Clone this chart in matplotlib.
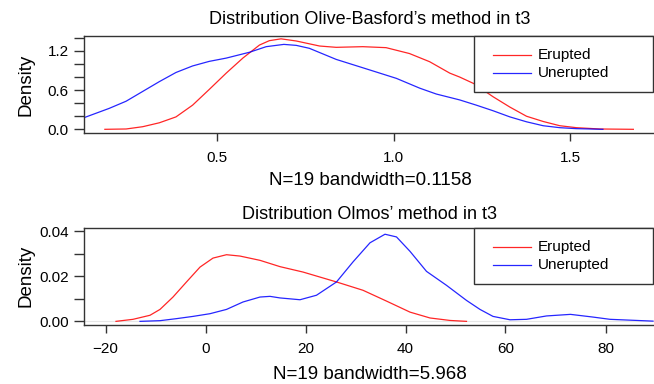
import numpy as np
import matplotlib
matplotlib.use("Agg")
import matplotlib.pyplot as plt
from matplotlib.patches import Rectangle

plt.rcParams['font.family'] = ['Liberation Sans', 'DejaVu Sans']

# --- data ---
series_names = ["Erupted", "Unerupted"]
series_colors = ["red", "blue"]

# panel 1: Olive-Basford
ob_erupted_x = [0.184, 0.244, 0.291, 0.338, 0.385, 0.432, 0.479, 0.527, 0.574, 0.621, 0.649,
                0.682, 0.725, 0.791, 0.838, 0.913, 0.979, 1.045, 1.102, 1.159, 1.187, 1.227,
                1.281, 1.329, 1.376, 1.423, 1.470, 1.517, 1.583, 1.678]
ob_erupted_y = [0.0, 0.005, 0.04, 0.10, 0.19, 0.37, 0.61, 0.86, 1.09, 1.29, 1.357,
                1.385, 1.352, 1.275, 1.255, 1.265, 1.25, 1.16, 1.035, 0.86, 0.80, 0.70,
                0.50, 0.34, 0.20, 0.12, 0.055, 0.025, 0.005, 0.0]
ob_unerupted_x = [0.125, 0.196, 0.244, 0.291, 0.338, 0.385, 0.432, 0.479, 0.527, 0.593, 0.640,
                  0.690, 0.725, 0.762, 0.838, 0.932, 1.008, 1.074, 1.121, 1.187, 1.234, 1.281,
                  1.329, 1.376, 1.423, 1.470, 1.517, 1.592]
ob_unerupted_y = [0.178, 0.32, 0.43, 0.58, 0.73, 0.87, 0.97, 1.04, 1.09, 1.18, 1.265,
                  1.30, 1.285, 1.24, 1.07, 0.91, 0.78, 0.63, 0.54, 0.45, 0.37, 0.285,
                  0.19, 0.115, 0.055, 0.025, 0.01, 0.0]

# panel 2: Olmos
ol_erupted_x = [-17.9, -14.5, -11.1, -9.1, -6.5, -3.8, -1.1, 1.5, 4.2, 6.9, 10.9, 14.9,
                19.5, 26.2, 31.5, 36.2, 40.9, 44.9, 48.9, 52.2]
ol_erupted_y = [0.0, 0.0009, 0.0027, 0.0053, 0.0108, 0.0175, 0.0241, 0.0281, 0.0296, 0.029,
                0.0271, 0.0243, 0.0219, 0.0175, 0.0138, 0.009, 0.0041, 0.0015, 0.0004, 0.0]
ol_unerupted_x = [-13.1, -9.1, -5.8, -2.5, 0.9, 4.2, 7.5, 10.9, 12.9, 14.9, 18.9, 22.2,
                  26.2, 29.5, 32.9, 35.9, 38.2, 40.9, 44.2, 48.2, 52.2, 54.9, 57.5, 60.9,
                  64.2, 68.2, 73.0, 77.5, 80.9, 89.5]
ol_unerupted_y = [0.0, 0.0003, 0.0012, 0.0022, 0.0034, 0.0053, 0.0086, 0.0108, 0.0111, 0.0104,
                  0.0096, 0.0116, 0.0175, 0.0264, 0.0349, 0.0387, 0.0375, 0.0311, 0.0222, 0.016,
                  0.0093, 0.0053, 0.0022, 0.0007, 0.0009, 0.0024, 0.0031, 0.0019, 0.0009, 0.0001]

titles = ["Distribution Olive-Basford\u2019s method in t3", "Distribution Olmos\u2019 method in t3"]
xlabels = ["N=19 bandwidth=0.1158", "N=19 bandwidth=5.968"]

ob_xticks = [0.5, 1.0, 1.5]
ob_xticklabels = ["0.5", "1.0", "1.5"]
ob_yticks = [0.0, 0.2, 0.4, 0.6, 0.8, 1.0, 1.2, 1.4]
ob_yticklabels = ["0.0", "", "", "0.6", "", "", "1.2", ""]
ol_xticks = [-20, 0, 20, 40, 60, 80]
ol_xticklabels = ["\u221220", "0", "20", "40", "60", "80"]
ol_yticks = [0.0, 0.01, 0.02, 0.03, 0.04]
ol_yticklabels = ["0.00", "", "0.02", "", "0.04"]

FS = 11        # ticks and legend
FS_TITLE = 13
FS_LAB = 13.5
EDGE = "#333333"


def draw_panel(ax, curves, title, xlabel, xticks, xticklabels, yticks, yticklabels,
               xlim, ylim, title_pad, xlab_y, zero_line=False):
    if zero_line:
        ax.axhline(0, color="#e6e6e6", lw=0.8, zorder=0)
    for (cx, cy), col in zip(curves, series_colors):
        ax.plot(cx, cy, color=col, lw=0.9, alpha=0.85)
    ax.set_xlim(*xlim)
    ax.set_ylim(*ylim)
    ax.set_xticks(xticks)
    ax.set_xticklabels(xticklabels)
    ax.set_yticks(yticks)
    ax.set_yticklabels(yticklabels)
    ax.tick_params(axis="y", length=7, width=1, color=EDGE, pad=4, labelsize=FS)
    ax.tick_params(axis="x", length=6, width=1, color=EDGE, pad=6.5, labelsize=FS)
    for s in ["left", "bottom", "top"]:
        ax.spines[s].set_color(EDGE)
        ax.spines[s].set_linewidth(1)
    ax.spines["right"].set_visible(False)
    ax.set_title(title, fontsize=FS_TITLE, pad=title_pad)
    ax.set_xlabel(xlabel, fontsize=FS_LAB)
    ax.xaxis.set_label_coords(0.5, xlab_y)
    ax.set_ylabel("Density", fontsize=FS_LAB)
    ax.yaxis.set_label_coords(-0.087, 0.5)

    # legend box in R style, anchored top-right
    ax.add_patch(Rectangle((0.682, 0.423), 0.3135, 0.577, transform=ax.transAxes,
                           fill=True, facecolor="white", edgecolor=EDGE, lw=1,
                           clip_on=False, zorder=3))
    rows = [0.805, 0.618]
    for name, col, yy in zip(series_names, series_colors, rows):
        ax.plot([0.7145, 0.7815], [yy, yy], transform=ax.transAxes, color=col,
                lw=0.9, alpha=0.85, zorder=4, clip_on=False)
        ax.text(0.794, yy, name, transform=ax.transAxes, fontsize=FS,
                va="center", ha="left", zorder=4)


fig = plt.figure(figsize=(6.54, 3.84), dpi=100)
ax1 = fig.add_axes([84 / 654, 1 - 133.3 / 384, 572 / 654, 97.6 / 384])
ax2 = fig.add_axes([84 / 654, 1 - 324.5 / 384, 572 / 654, 96.8 / 384])

draw_panel(ax1, [(ob_erupted_x, ob_erupted_y), (ob_unerupted_x, ob_unerupted_y)],
           titles[0], xlabels[0], ob_xticks, ob_xticklabels, ob_yticks, ob_yticklabels,
           (0.125, 1.742), (-0.061, 1.433), 8.4, -0.395)
draw_panel(ax2, [(ol_erupted_x, ol_erupted_y), (ol_unerupted_x, ol_unerupted_y)],
           titles[1], xlabels[1], ol_xticks, ol_xticklabels, ol_yticks, ol_yticklabels,
           (-24.3, 90.1), (-0.0014, 0.0416), 6, -0.425, zero_line=True)

fig.savefig("out.png", dpi=100)
